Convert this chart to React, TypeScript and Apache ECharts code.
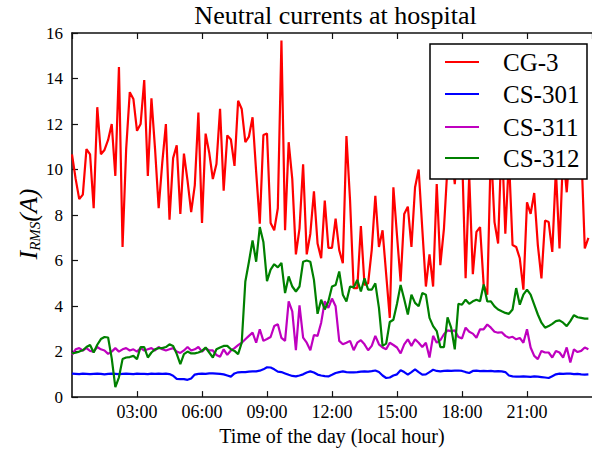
import React, { useEffect, useRef } from 'react';
import * as echarts from 'echarts';

const seriesNames = ['CG-3', 'CS-301', 'CS-311', 'CS-312'];
const seriesColors = ['#ff0000', '#0000ff', '#bf00bf', '#008000'];
const SAMPLE_MINUTES = 10;
const xTickLabels = ['00:00', '03:00', '06:00', '09:00', '12:00', '15:00', '18:00', '21:00', '24:00'];
const yTickValues = [0, 2, 4, 6, 8, 10, 12, 14, 16];

const cg3 = [
  10.67, 9.6, 8.7, 8.9, 10.9, 10.67, 8.3, 12.74, 10.67, 10.86,
  11.3, 12.0, 9.72, 14.5, 6.6, 10.9, 13.4, 13.1, 11.7, 12.0,
  13.93, 9.72, 13.13, 10.9, 8.3, 10.3, 12.0, 7.8, 10.5, 11.06,
  8.05, 10.7, 9.5, 8.13, 9.3, 12.5, 7.65, 11.58, 10.74, 9.58,
  10.24, 12.67, 9.07, 11.5, 11.32, 10.16, 13.02, 12.66, 11.2, 11.45,
  12.3, 9.9, 7.62, 11.52, 11.58, 7.65, 7.33, 8.3, 15.67, 7.33,
  11.2, 9.58, 6.27, 7.4, 10.23, 6.27, 7.18, 9.04, 6.75, 6.1,
  8.64, 6.56, 6.56, 7.84, 6.46, 5.88, 11.47, 8.64, 4.79, 4.79,
  7.52, 4.93, 5.0, 6.46, 8.85, 6.6, 7.33, 5.4, 3.48, 9.22,
  7.1, 5.08, 8.05, 8.37, 6.6, 9.22, 10.0, 7.4, 4.86, 6.27,
  4.86, 9.36, 5.8, 7.4, 10.2, 11.0, 9.36, 11.5, 10.8, 5.22,
  9.72, 5.4, 7.26, 7.47, 4.93, 4.5, 11.0, 7.69, 6.75, 11.5,
  7.18, 10.5, 6.68, 6.6, 6.1, 4.72, 8.56, 8.05, 8.97, 6.68,
  5.22, 7.76, 7.69, 6.38, 10.0, 6.53, 10.8, 9.0, 11.2, 10.5,
  9.8, 11.0, 6.53, 7.0,
];

const cs301 = [
  1.03, 1.02, 1.01, 1.03, 1.02, 1.01, 1.02, 1.03, 1.02, 1.0,
  1.02, 1.03, 1.02, 1.01, 1.02, 1.03, 1.02, 1.01, 1.03, 1.02,
  1.02, 1.01, 1.03, 1.02, 1.03, 1.02, 1.03, 1.01, 0.94, 0.8,
  0.79, 0.79, 0.76, 0.82, 0.99, 1.02, 1.03, 1.02, 1.04, 1.04,
  1.03, 1.02, 1.0, 0.95, 0.9, 1.04, 1.09, 1.1, 1.1, 1.12,
  1.13, 1.13, 1.16, 1.22, 1.31, 1.3, 1.22, 1.12, 1.1, 1.04,
  0.98, 0.93, 0.91, 0.95, 1.0, 1.08, 1.13, 1.08, 0.99, 0.95,
  0.92, 0.91, 0.98, 1.06, 1.1, 1.13, 1.1, 1.09, 1.09, 1.1,
  1.12, 1.13, 1.12, 1.14, 1.17, 1.1, 0.95, 0.84, 0.86, 0.95,
  1.0, 1.18, 1.1, 0.99, 1.1, 1.22, 1.1, 0.99, 1.0, 1.1,
  1.2, 1.15, 1.13, 1.15, 1.16, 1.15, 1.16, 1.17, 1.15, 1.1,
  1.06, 1.15, 1.16, 1.14, 1.15, 1.14, 1.15, 1.13, 1.14, 1.13,
  1.1, 0.95, 0.91, 0.9, 0.9, 0.91, 0.9, 0.89, 0.91, 0.9,
  0.88, 0.86, 0.84, 0.92, 1.0, 1.03, 1.02, 1.03, 1.03, 1.01,
  1.02, 1.0, 0.99, 1.0,
];

const cs311 = [
  1.86, 2.1, 2.15, 2.05, 2.15, 2.03, 2.0, 2.2, 2.1, 2.05,
  1.9, 2.0, 2.15, 2.0, 2.1, 2.15, 2.05, 2.1, 2.0, 2.15,
  2.05, 2.1, 2.15, 2.05, 2.2, 2.1, 2.05, 2.1, 2.15, 2.0,
  1.94, 2.05, 2.2, 2.05, 2.1, 2.2, 2.0, 2.15, 2.05, 2.05,
  1.85, 1.77, 2.1, 1.86, 2.05, 2.15, 2.28, 2.39, 2.54, 2.69,
  2.83, 2.39, 2.98, 2.47, 2.55, 2.64, 3.12, 3.2, 2.6, 2.47,
  4.21, 3.77, 2.06, 4.03, 2.61, 2.39, 2.06, 2.73, 2.69, 3.27,
  4.21, 3.92, 4.33, 3.99, 2.47, 2.32, 2.39, 2.47, 2.06, 2.39,
  2.5, 2.32, 2.06, 2.25, 2.69, 2.32, 2.18, 2.1, 2.39, 2.29,
  2.18, 1.92, 2.32, 2.54, 2.25, 2.54, 2.39, 2.2, 2.39, 1.74,
  2.69, 2.39, 2.5, 2.76, 2.93, 2.9, 2.93, 2.64, 2.58, 3.05,
  2.87, 2.79, 2.61, 2.98, 2.98, 3.19, 3.05, 2.87, 2.83, 2.85,
  2.69, 2.61, 2.65, 2.54, 2.6, 2.39, 2.98, 2.18, 1.81, 1.67,
  2.03, 1.96, 1.96, 1.74, 2.03, 1.96, 1.74, 2.18, 1.52, 2.1,
  1.98, 2.03, 2.18, 2.1,
];

const cs312 = [
  1.92, 1.95, 2.0, 2.06, 2.2, 2.29, 1.96, 2.3, 2.55, 2.64,
  2.62, 1.7, 0.44, 0.87, 1.67, 1.74, 1.76, 1.81, 1.67, 2.2,
  2.2, 1.74, 1.96, 2.1, 2.15, 2.15, 2.2, 2.32, 2.25, 1.9,
  1.45, 1.89, 2.0, 1.92, 1.92, 1.96, 2.03, 2.18, 1.96, 1.74,
  2.1, 2.18, 2.25, 2.25, 2.1, 2.03, 1.89, 2.39, 5.08, 5.95,
  6.89, 5.95, 7.47, 6.82, 5.1, 5.6, 5.84, 5.7, 5.9, 4.57,
  5.3, 4.86, 4.64, 4.86, 5.95, 6.0, 5.95, 5.15, 3.66, 4.28,
  3.85, 4.21, 4.86, 4.93, 5.52, 4.5, 4.2, 4.86, 4.82, 5.15,
  4.64, 5.22, 4.72, 4.72, 5.0, 3.92, 2.25, 2.35, 3.3, 3.4,
  4.1, 4.93, 4.3, 3.63, 4.5, 4.14, 3.99, 4.57, 4.5, 3.48,
  3.12, 2.9, 2.2, 2.2, 3.5, 3.05, 2.1, 4.1, 4.06, 4.28,
  4.1, 4.21, 4.28, 4.21, 4.95, 4.2, 4.21, 3.99, 3.85, 3.77,
  3.7, 3.66, 3.85, 4.79, 4.06, 4.5, 4.72, 4.5, 4.06, 3.63,
  3.27, 3.05, 3.12, 3.22, 3.34, 3.37, 3.27, 3.12, 3.34, 3.6,
  3.51, 3.48, 3.45, 3.45,
];

const allSeries = [cg3, cs301, cs311, cs312];
const FONT = 'Liberation Serif';

export default function App() {
  const ref = useRef<HTMLDivElement>(null);
  useEffect(() => {
    if (!ref.current) return;
    const chart = echarts.init(ref.current, null, { renderer: 'svg' });
    const toXY = (arr: number[]) => arr.map((v, i) => [(i * SAMPLE_MINUTES) / 60, v]);

    const axisLine = { show: true, lineStyle: { color: '#111', width: 1.6 } };
    const tick = { show: true, inside: true, length: 6, lineStyle: { color: '#111', width: 1.2 } };

    const legendTop = 44;
    const legendItemsY = [62, 94, 127, 158];
    const legendGraphics: any[] = [
      {
        type: 'rect',
        z: 100,
        shape: { x: 430, y: legendTop, width: 157, height: 135 },
        style: { fill: '#fff', stroke: '#000', lineWidth: 1.5 },
      },
    ];
    seriesNames.forEach((name, i) => {
      legendGraphics.push({
        type: 'line',
        z: 101,
        shape: { x1: 445, y1: legendItemsY[i], x2: 479, y2: legendItemsY[i] },
        style: { stroke: seriesColors[i], lineWidth: 2 },
      });
      legendGraphics.push({
        type: 'text',
        z: 101,
        x: 503,
        y: legendItemsY[i],
        style: {
          text: name,
          fill: '#000',
          font: `25px "${FONT}"`,
          verticalAlign: 'middle',
          align: 'left',
        },
      });
    });

    chart.setOption({
      animation: false,
      backgroundColor: '#fff',
      title: {
        text: 'Neutral currents at hospital',
        left: 335.5,
        textAlign: 'center',
        top: 2,
        padding: 0,
        textStyle: { fontFamily: FONT, fontSize: 26, fontWeight: 'normal', color: '#000' },
      },
      grid: { left: 72, top: 33, width: 527, height: 368, containLabel: false },
      xAxis: [
        {
          type: 'value',
          min: 0,
          max: 24,
          interval: 3,
          position: 'bottom',
          axisLine,
          axisTick: tick,
          splitLine: { show: false },
          axisLabel: {
            color: '#000',
            fontFamily: FONT,
            fontSize: 18,
            margin: 6,
            showMinLabel: false,
            showMaxLabel: false,
            formatter: (v: number) => xTickLabels[Math.round(v / 3)],
          },
          name: 'Time of the day (local hour)',
          nameLocation: 'middle',
          nameGap: 28,
          nameTextStyle: { fontFamily: FONT, fontSize: 20, color: '#000' },
        },
        {
          type: 'value',
          min: 0,
          max: 24,
          interval: 3,
          position: 'top',
          axisLine,
          axisTick: tick,
          splitLine: { show: false },
          axisLabel: { show: false },
        },
      ],
      yAxis: {
        type: 'value',
        min: yTickValues[0],
        max: yTickValues[yTickValues.length - 1],
        interval: 2,
        axisLine,
        axisTick: tick,
        splitLine: { show: false },
        axisLabel: { color: '#000', fontFamily: FONT, fontSize: 17, margin: 9 },
      },
      graphic: [
        {
          type: 'text',
          x: 28,
          y: 224,
          rotation: Math.PI / 2,
          style: {
            text: '{i|I}{s|RMS}{i|(A)}',
            align: 'center',
            verticalAlign: 'middle',
            fill: '#000',
            rich: {
              i: { fontFamily: FONT, fontStyle: 'italic', fontSize: 26, lineHeight: 28, fill: '#000' },
              s: { fontFamily: FONT, fontStyle: 'italic', fontSize: 15, lineHeight: 15, verticalAlign: 'bottom', fill: '#000' },
            },
          },
        },
        ...legendGraphics,
      ],
      series: allSeries.map((arr, i) => ({
        name: seriesNames[i],
        type: 'line',
        xAxisIndex: 0,
        data: toXY(arr),
        showSymbol: false,
        symbol: 'none',
        lineStyle: { color: seriesColors[i], width: 2.2 },
        itemStyle: { color: seriesColors[i] },
        z: 2 + i,
      })),
    });
    return () => chart.dispose();
  }, []);
  return <div ref={ref} style={{ width: 592, height: 451, position: 'absolute', left: 0, top: 0 }} />;
}
